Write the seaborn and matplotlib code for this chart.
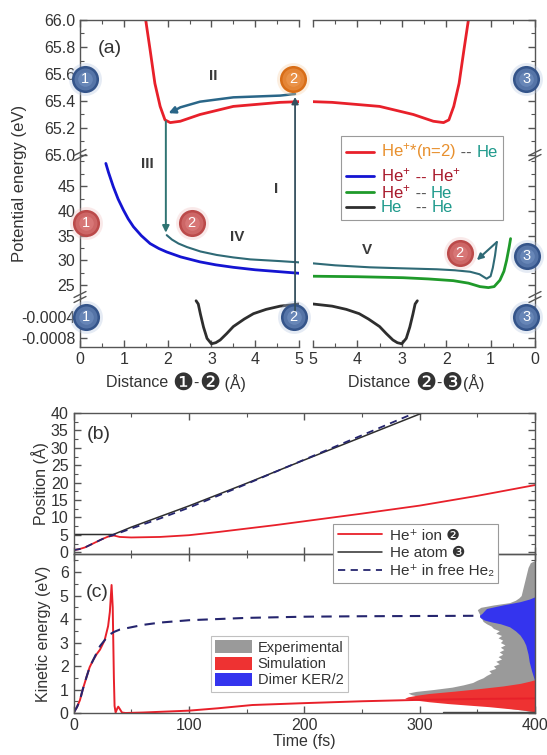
import numpy as np
import pandas as pd
import matplotlib
matplotlib.use("Agg")
import matplotlib.pyplot as plt
import seaborn as sns
from matplotlib.patches import ConnectionPatch, Patch
from matplotlib.lines import Line2D
from matplotlib.ticker import MultipleLocator, FixedLocator, FormatStrFormatter
from matplotlib.offsetbox import TextArea, HPacker, VPacker, DrawingArea, AnchoredOffsetbox

# ---------------- data: panel (a) potential curves ----------------
d_red = [1.50, 1.60, 1.71, 1.83, 1.94, 2.06, 2.29, 2.74, 3.50, 4.57, 5.00]
e_red = [66.00, 65.78, 65.53, 65.36, 65.26, 65.24, 65.25, 65.30, 65.36, 65.39, 65.395]

d_blue = [0.59, 0.65, 0.76, 0.87, 0.99, 1.10, 1.22, 1.40, 1.60, 1.80, 1.98, 2.30, 2.74, 3.10, 3.50, 4.00, 4.57, 5.00]
e_blue = [49.6, 47.8, 44.9, 42.4, 40.2, 38.4, 36.8, 35.0, 33.4, 32.4, 31.7, 30.7, 29.7, 29.1, 28.6, 28.1, 27.7, 27.4]

d_green = [5.0, 4.0, 2.97, 2.4, 1.84, 1.5, 1.24, 1.05, 0.92, 0.79, 0.70, 0.64, 0.58, 0.55]
e_green = [26.8, 26.7, 26.5, 26.25, 25.9, 25.4, 24.7, 24.5, 24.7, 26.0, 27.8, 30.0, 32.8, 34.4]

d_black = [2.65, 2.70, 2.75, 2.82, 2.90, 3.00, 3.10, 3.20, 3.35, 3.50, 3.75, 3.96, 4.25, 4.57, 5.00]
e_black = [-0.00010, -0.00016, -0.00035, -0.00059, -0.00080, -0.00090, -0.00088, -0.00083,
           -0.00071, -0.00058, -0.00044, -0.00034, -0.00026, -0.00020, -0.00016]

# trajectory (IV, V) and arrows
d_traj12 = [1.98, 2.10, 2.25, 2.44, 2.75, 3.12, 3.50, 3.89, 4.57, 5.00]
e_traj12 = [35.1, 34.2, 33.4, 32.7, 31.8, 31.1, 30.6, 30.2, 29.85, 29.6]
d_traj23 = [5.0, 4.5, 3.72, 3.0, 2.21, 1.80, 1.46, 1.25, 1.09, 1.00, 0.95, 0.90, 0.86]
e_traj23 = [29.4, 29.0, 28.6, 28.4, 28.2, 28.0, 27.7, 27.2, 26.3, 26.8, 28.5, 31.0, 33.7]
traj_end = (1.31, 30.05)
d_arrII = [4.91, 4.57, 3.50, 2.74, 2.29, 2.15]
e_arrII = [65.452, 65.44, 65.427, 65.395, 65.353, 65.328]
arrII_end = (2.02, 65.31)
arrI_x, arrI_from, arrI_to = 4.91, -0.00028, 65.43
arrIII_x, arrIII_from, arrIII_to = 1.96, 65.25, 35.6

# numbered atoms (bubbles): panel, x, y, label, colour key
bubbles = [("TL", 0.12, 65.565, "1", "b"), ("TL", 4.86, 65.56, "2", "o"), ("TR", 0.20, 65.56, "3", "b"),
           ("ML", 0.14, 37.5, "1", "r"), ("ML", 2.55, 37.5, "2", "r"), ("MR", 1.70, 31.5, "2", "r"),
           ("MR", 0.19, 30.9, "3", "b"), ("BL", 0.14, -0.0004, "1", "b"), ("BL", 4.88, -0.0004, "2", "b"),
           ("BR", 0.20, -0.0004, "3", "b")]
roman = [("TL", 3.04, 65.585, "II"), ("ML", 1.53, 49.4, "III"), ("ML", 4.48, 44.5, "I"),
         ("ML", 3.60, 34.75, "IV"), ("MR", 3.79, 32.1, "V")]

# ---------------- data: panel (b) positions ----------------
t_ion = [0, 5, 10, 15, 20, 25, 30, 35, 40, 50, 75, 100, 125, 150, 175, 200, 250, 300, 350, 400]
pos_ion = [0.6, 0.9, 1.4, 2.2, 3.0, 3.8, 4.5, 4.8, 4.4, 4.25, 4.4, 4.9, 5.8, 6.8, 7.8, 8.9, 11.1, 13.4, 16.2, 19.3]
t_atom = [0, 10, 20, 30, 34, 36, 50, 100, 150, 200, 250, 300, 310]
pos_atom = [5.1, 5.1, 5.1, 5.1, 5.1, 5.3, 7.2, 13.3, 19.8, 26.5, 33.1, 39.7, 41.0]
t_free = [0, 5, 10, 15, 20, 25, 30, 35, 40, 50, 75, 100, 150, 200, 250, 300]
pos_free = [0.6, 0.9, 1.4, 2.2, 3.0, 3.8, 4.5, 5.0, 5.6, 6.8, 9.7, 12.8, 19.6, 26.6, 33.6, 40.6]

# ---------------- data: panel (c) kinetic energies ----------------
t_ke = [0, 3, 5.6, 8, 11.4, 14, 17, 20, 23, 27, 30, 31.5, 33, 34, 35, 35.6, 36.5, 38, 38.8, 40, 42, 45,
        60, 80, 100, 125, 155, 200, 250, 300, 350, 400]
ke_ion = [0, 0.25, 0.55, 1.0, 1.55, 1.95, 2.25, 2.5, 2.7, 3.1, 3.7, 4.3, 5.45, 4.5, 1.5, 0.3, 0.02, 0.2,
          0.27, 0.18, 0.02, 0, 0.02, 0.06, 0.1, 0.2, 0.34, 0.42, 0.5, 0.56, 0.6, 0.62]
t_kefree = [0, 3, 5.6, 8, 11.4, 14, 17, 20, 23, 27, 30, 35, 40, 50, 60, 75, 100, 125, 150, 200, 250, 300, 352]
ke_free = [0, 0.25, 0.55, 1.0, 1.55, 1.95, 2.25, 2.55, 2.85, 3.1, 3.3, 3.45, 3.55, 3.65, 3.75, 3.85, 3.95,
           4.0, 4.05, 4.1, 4.12, 4.13, 4.14]
t_base = [320, 400]
ke_base = [0.04, 0.04]

exp_E = [0.03, 0.10, 0.20, 0.30, 0.40, 0.50, 0.60, 0.70, 0.78, 0.85, 0.92, 1.00, 1.10, 1.20, 1.30, 1.40, 1.50,
         1.60, 1.70, 1.80, 1.90, 2.00, 2.10, 2.20, 2.30, 2.40, 2.50, 2.60, 2.70, 2.80, 2.90, 3.00, 3.10, 3.20,
         3.30, 3.40, 3.50, 3.60, 3.70, 3.80, 3.90, 4.00, 4.10, 4.20, 4.30, 4.40, 4.50, 4.60, 4.70, 4.80, 4.90,
         5.00, 5.20, 5.40, 5.60, 5.80, 6.00, 6.20, 6.40, 6.50]
exp_t = [400, 392, 378, 365, 348, 335, 318, 300, 293, 290, 297, 312, 328, 338, 346, 350, 355, 358, 362, 360,
         366, 364, 369, 366, 371, 368, 372, 369, 373, 370, 374, 370, 372, 368, 371, 366, 369, 364, 362, 358,
         355, 354, 352, 352, 351, 350, 353, 364, 378, 383, 386, 388, 389, 390, 391, 392, 393, 394, 396, 400]
sim_E = [0.05, 0.13, 0.27, 0.40, 0.48, 0.56, 0.63, 0.69, 0.76, 0.83, 0.93, 1.04, 1.15, 1.26, 1.35, 1.42]
sim_t = [400, 389, 360, 325, 308, 295, 287, 290, 298, 308, 330, 352, 372, 387, 395, 400]
ker_E = [1.33, 1.80, 2.18, 2.50, 2.89, 3.10, 3.32, 3.50, 3.67, 3.80, 3.88, 3.96, 4.05, 4.10, 4.17, 4.24,
         4.35, 4.45, 4.60, 4.74, 4.85, 4.95]
ker_t = [400, 397, 395, 394, 392, 390, 387, 383, 378, 370, 362, 356, 353, 352, 352, 354, 356, 358, 372,
         387, 395, 400]

# ---------------- style ----------------
sns.set_theme(style="ticks")
plt.rcParams['font.family'] = ['Liberation Sans', 'DejaVu Sans']
plt.rcParams['mathtext.fontset'] = 'custom'
plt.rcParams['mathtext.rm'] = 'Liberation Sans'
plt.rcParams['mathtext.it'] = 'Liberation Sans:italic'
plt.rcParams['mathtext.bf'] = 'Liberation Sans:bold'
plt.rcParams['mathtext.default'] = 'regular'
plt.rcParams['axes.unicode_minus'] = False

TXT = '#333333'
SP = '#555555'
C_RED = '#e8202a'
C_BLUE = '#1414d2'
C_GREEN = '#1f9a2a'
C_BLACK = '#2e2e2e'
C_TEAL = '#2f6a76'
C_ARR = '#35505e'
BUB = {"b": ("#34548a", "#7f9dcc", "#b5c6e2"),
       "o": ("#d86d17", "#f3a45e", "#f8cfa6"),
       "r": ("#bb4a4a", "#e58a8a", "#f0c0c0")}
FS = 11.5

W, H = 547, 755
fig = plt.figure(figsize=(W / 100, H / 100), dpi=100)
fig.patch.set_facecolor('white')


def ax_px(x0, y0, x1, y1):
    a = fig.add_axes([x0 / W, 1 - y1 / H, (x1 - x0) / W, (y1 - y0) / H])
    a.set_facecolor('none')
    return a


axTL = ax_px(80, 20, 299, 155)
axTR = ax_px(313, 20, 535, 155)
axML = ax_px(80, 155, 299, 297)
axMR = ax_px(313, 155, 535, 297)
axBL = ax_px(80, 297, 299, 347)
axBR = ax_px(313, 297, 535, 347)
axb = ax_px(73.5, 413, 535, 554)
axc = ax_px(73.5, 554, 535, 713)
AX = {"TL": axTL, "TR": axTR, "ML": axML, "MR": axMR, "BL": axBL, "BR": axBR}

# ---------------- panel (a) curves ----------------
kw = dict(sort=False, estimator=None)
for ax in (axTL, axTR):
    sns.lineplot(x=d_red, y=e_red, ax=ax, color=C_RED, linewidth=2.0, **kw)
sns.lineplot(x=d_blue, y=e_blue, ax=axML, color=C_BLUE, linewidth=2.0, **kw)
sns.lineplot(x=d_green, y=e_green, ax=axMR, color=C_GREEN, linewidth=2.0, **kw)
for ax in (axBL, axBR):
    sns.lineplot(x=d_black, y=e_black, ax=ax, color=C_BLACK, linewidth=2.0, **kw)
sns.lineplot(x=d_traj12, y=e_traj12, ax=axML, color=C_TEAL, linewidth=1.5, **kw)
sns.lineplot(x=d_traj23, y=e_traj23, ax=axMR, color=C_TEAL, linewidth=1.5, **kw)
axMR.annotate('', xy=traj_end, xytext=(d_traj23[-1], e_traj23[-1]),
              arrowprops=dict(arrowstyle='-|>', color=C_TEAL, lw=1.5, shrinkA=0, shrinkB=0, mutation_scale=9))
sns.lineplot(x=d_arrII, y=e_arrII, ax=axTL, color='#2a6688', linewidth=1.8, **kw)
axTL.annotate('', xy=arrII_end, xytext=(d_arrII[-1], e_arrII[-1]),
              arrowprops=dict(arrowstyle='-|>', color='#2a6688', lw=1.8, shrinkA=0, shrinkB=0, mutation_scale=10))

for ax in (axTL, axML, axBL):
    ax.set_xlim(0, 5)
for ax in (axTR, axMR, axBR):
    ax.set_xlim(5, 0)
for ax in (axTL, axTR):
    ax.set_ylim(65.0, 66.0)
for ax in (axML, axMR):
    ax.set_ylim(22.6, 51.3)
for ax in (axBL, axBR):
    ax.set_ylim(-0.00096, -0.00003)

for ax in AX.values():
    ax.set_xlabel('')
    ax.set_ylabel('')
    ax.xaxis.set_major_locator(MultipleLocator(1))
    ax.xaxis.set_minor_locator(MultipleLocator(0.5))
    for s in ax.spines.values():
        s.set_color(SP)
        s.set_linewidth(1.0)
    ax.tick_params(which='both', direction='in', colors=SP, labelcolor=TXT, labelsize=FS)
    ax.tick_params(which='major', length=5, width=1.0)
    ax.tick_params(which='minor', length=3, width=0.8)

for ax in (axTL, axTR):
    ax.yaxis.set_major_locator(MultipleLocator(0.2))
    ax.yaxis.set_minor_locator(MultipleLocator(0.1))
axTL.yaxis.set_major_formatter(FormatStrFormatter('%.1f'))
for ax in (axML, axMR):
    ax.yaxis.set_major_locator(FixedLocator([25, 30, 35, 40, 45]))
    ax.yaxis.set_minor_locator(FixedLocator([22.5, 27.5, 32.5, 37.5, 42.5, 47.5, 50]))
for ax in (axBL, axBR):
    ax.yaxis.set_major_locator(FixedLocator([-0.0008, -0.0004]))
    ax.yaxis.set_minor_locator(FixedLocator([-0.0006, -0.0002]))
axBL.yaxis.set_major_formatter(FormatStrFormatter('%.4f'))

for ax in (axTL, axML, axBL):
    ax.spines['right'].set_visible(False)
    ax.tick_params(axis='y', which='both', left=True, right=False, labelleft=True, labelright=False)
for ax in (axTR, axMR, axBR):
    ax.spines['left'].set_visible(False)
    ax.tick_params(axis='y', which='both', left=False, right=True, labelleft=False, labelright=False)
for ax in (axTL, axTR):
    ax.spines['bottom'].set_visible(False)
    ax.tick_params(axis='x', which='both', top=True, bottom=False, labelbottom=False)
for ax in (axML, axMR):
    ax.spines['bottom'].set_visible(False)
    ax.spines['top'].set_visible(False)
    ax.tick_params(axis='x', which='both', top=False, bottom=False, labelbottom=False)
for ax in (axBL, axBR):
    ax.spines['top'].set_visible(False)
    ax.tick_params(axis='x', which='both', top=False, bottom=True, labelbottom=True)


# break marks
def brk(xp, yp):
    for dy in (-2.5, 2.5):
        fig.add_artist(Line2D([(xp - 6) / W, (xp + 6) / W],
                              [1 - (yp + dy + 3) / H, 1 - (yp + dy - 3) / H],
                              color=SP, lw=1.0))


for xp in (80, 535):
    for yp in (155, 297):
        brk(xp, yp)

# cross-axes arrows I and III
fig.add_artist(ConnectionPatch(xyA=(arrI_x, arrI_from), coordsA=axBL.transData,
                               xyB=(arrI_x, arrI_to), coordsB=axTL.transData,
                               arrowstyle='-|>', color=C_ARR, lw=1.3, mutation_scale=10))
fig.add_artist(ConnectionPatch(xyA=(arrIII_x, arrIII_from), coordsA=axTL.transData,
                               xyB=(arrIII_x, arrIII_to), coordsB=axML.transData,
                               arrowstyle='-|>', color='#2f7472', lw=1.4, mutation_scale=10))

# bubbles (shaded spheres)
for key, bx, by, lab, ck in bubbles:
    ax = AX[key]
    dark, mid, light = BUB[ck]
    ax.scatter([bx], [by], s=560, color=light, alpha=0.35, linewidths=0, clip_on=False, zorder=5)
    ax.scatter([bx], [by], s=380, color=dark, linewidths=0, clip_on=False, zorder=6)
    ax.scatter([bx], [by], s=250, color=mid, alpha=0.45, linewidths=0, clip_on=False, zorder=7)
    ax.scatter([bx], [by], s=110, color=mid, alpha=0.45, linewidths=0, clip_on=False, zorder=7)
    ax.text(bx, by, lab, color='white', fontsize=10.5, ha='center', va='center', zorder=8)

for key, rx, ry, lab in roman:
    AX[key].text(rx, ry, lab, fontsize=11, fontweight='bold', color='#3a3a3a', ha='center', va='center')

axTL.text(0.67, 65.79, '(a)', fontsize=14, color=TXT, ha='center', va='center')

fig.text(20 / W, 1 - 183 / H, 'Potential energy (eV)', rotation=90, ha='center', va='center',
         fontsize=12, color=TXT)


def dist_label(parts, xc):
    kids = [TextArea(s, textprops=dict(color=TXT, fontsize=f, family=['DejaVu Sans'] if f > 12 else
                                       ['Liberation Sans', 'DejaVu Sans'])) for s, f in parts]
    hp = HPacker(children=kids, align='center', pad=0, sep=0)
    box = AnchoredOffsetbox(loc='center', child=hp, pad=0, borderpad=0, frameon=False,
                            bbox_to_anchor=(xc / W, 1 - 383 / H), bbox_transform=fig.transFigure)
    fig.add_artist(box)


dist_label([('Distance ', FS), ('\u2776', 17), ('-', FS), ('\u2777', 17), (' (\u00c5)', FS)], 176)
dist_label([('Distance ', FS), ('\u2777', 17), ('-', FS), ('\u2778', 17), ('(\u00c5)', FS)], 416)

# legend of panel (a) with multi-coloured text
C_OR = '#e8902e'
C_TQ = '#1f9a8c'
C_DR = '#a8192b'
C_DS = '#555555'


def leg_row(color, parts, fs=12):
    da = DrawingArea(20, 9, 0, 0)
    da.add_artist(Line2D([0, 20], [4.5, 4.5], color=color, lw=2.0))
    texts = [TextArea(s, textprops=dict(color=c, fontsize=fs)) for s, c in parts]
    return HPacker(children=[da, HPacker(children=texts, align='baseline', pad=0, sep=0)],
                   align='center', pad=0, sep=5)


rows = [leg_row(C_RED, [('He$^{+}$*(n=2)', C_OR), (' -- ', C_DS), ('He', C_TQ)]),
        DrawingArea(10, 5, 0, 0),
        leg_row(C_BLUE, [('He$^{+}$', C_DR), (' -- ', C_DR), ('He$^{+}$', C_DR)]),
        leg_row(C_GREEN, [('He$^{+}$', C_DR), (' -- ', C_DS), ('He', C_TQ)]),
        leg_row(C_BLACK, [('He', C_TQ), ('   -- ', C_DS), ('He', C_TQ)])]
vp = VPacker(children=rows, align='left', pad=0, sep=-1)
abox = AnchoredOffsetbox(loc='upper left', child=vp, pad=0.35, borderpad=0, frameon=True,
                         bbox_to_anchor=(341 / W, 1 - 136 / H), bbox_transform=fig.transFigure)
abox.patch.set_edgecolor('#9a9a9a')
abox.patch.set_linewidth(0.8)
abox.zorder = 10
fig.add_artist(abox)

# ---------------- panel (b) ----------------
sns.lineplot(x=t_ion, y=pos_ion, ax=axb, color=C_RED, linewidth=1.3, **kw)
sns.lineplot(x=t_atom, y=pos_atom, ax=axb, color=C_BLACK, linewidth=1.1, **kw)
sns.lineplot(x=t_free, y=pos_free, ax=axb, color='#25256e', linewidth=1.3, linestyle=(0, (4, 3)), **kw)
axb.set_xlim(0, 400)
axb.set_ylim(-0.5, 40)
axb.yaxis.set_major_locator(MultipleLocator(5))
axb.yaxis.set_minor_locator(MultipleLocator(2.5))
axb.set_ylabel('Position (\u00c5)', fontsize=FS, color=TXT, labelpad=1)
axb.text(21.5, 33.7, '(b)', fontsize=14, color=TXT, ha='center', va='center')

# ---------------- panel (c) ----------------
axc.fill_betweenx(exp_E, exp_t, 400, color='#9a9a9a', linewidth=0, zorder=1)
axc.fill_betweenx(ker_E, ker_t, 400, color='#3434ee', linewidth=0, zorder=2)
axc.fill_betweenx(sim_E, sim_t, 400, color='#ee3232', linewidth=0, zorder=2)
sns.lineplot(x=t_base, y=ke_base, ax=axc, color='#444444', linewidth=1.0, **kw)
sns.lineplot(x=t_ke, y=ke_ion, ax=axc, color=C_RED, linewidth=1.4, **kw)
sns.lineplot(x=t_kefree, y=ke_free, ax=axc, color='#25256e', linewidth=1.5, linestyle=(0, (5, 3.5)), **kw)
axc.set_xlim(0, 400)
axc.set_ylim(0, 6.77)
axc.yaxis.set_major_locator(MultipleLocator(1))
axc.yaxis.set_minor_locator(MultipleLocator(0.5))
axc.set_ylabel('Kinetic energy (eV)', fontsize=FS, color=TXT, labelpad=6)
axc.set_xlabel('Time (fs)', fontsize=FS, color=TXT, labelpad=1)
axc.text(20.8, 5.15, '(c)', fontsize=14, color=TXT, ha='center', va='center')

for ax in (axb, axc):
    ax.xaxis.set_major_locator(MultipleLocator(100))
    ax.xaxis.set_minor_locator(MultipleLocator(50))
    for s in ax.spines.values():
        s.set_color(SP)
        s.set_linewidth(1.0)
    ax.tick_params(which='both', direction='in', top=True, right=True, colors=SP,
                   labelcolor=TXT, labelsize=FS)
    ax.tick_params(which='major', length=5, width=1.0)
    ax.tick_params(which='minor', length=3, width=0.8)
axb.tick_params(axis='x', labelbottom=False)
axb.set_xlabel('')

# legends for (b) and (c)
hb = [Line2D([], [], color=C_RED, lw=1.3), Line2D([], [], color=C_BLACK, lw=1.1),
      Line2D([], [], color='#25256e', lw=1.3, linestyle=(0, (4, 3)))]
lb = ['He\u207a ion \u2777', 'He atom \u2778', 'He\u207a in free He\u2082']
legb = fig.legend(hb, lb, loc='upper left', bbox_to_anchor=(333 / W, 1 - 524 / H), fontsize=11,
                  frameon=True, fancybox=False, edgecolor='#9a9a9a', framealpha=1,
                  borderpad=0.3, handlelength=2.9, handletextpad=0.5, labelspacing=0.25, borderaxespad=0)
legb.get_frame().set_linewidth(0.8)
for t in legb.get_texts():
    t.set_color(TXT)

hc = [Patch(facecolor='#9a9a9a', edgecolor='none'), Patch(facecolor='#ee3232', edgecolor='none'),
      Patch(facecolor='#3434ee', edgecolor='none')]
lc = ['Experimental', 'Simulation', 'Dimer KER/2']
legc = axc.legend(hc, lc, loc='upper left', bbox_to_anchor=(211 / W, 1 - 636 / H),
                  bbox_transform=fig.transFigure, fontsize=10.5, frameon=True, fancybox=False,
                  edgecolor='#c0c0c0', framealpha=1, borderpad=0.3, handlelength=2.5,
                  handleheight=1.0, handletextpad=0.4, labelspacing=0.12, borderaxespad=0)
legc.get_frame().set_linewidth(0.8)
for t in legc.get_texts():
    t.set_color(TXT)

fig.savefig('out.png', dpi=100, facecolor='white')
